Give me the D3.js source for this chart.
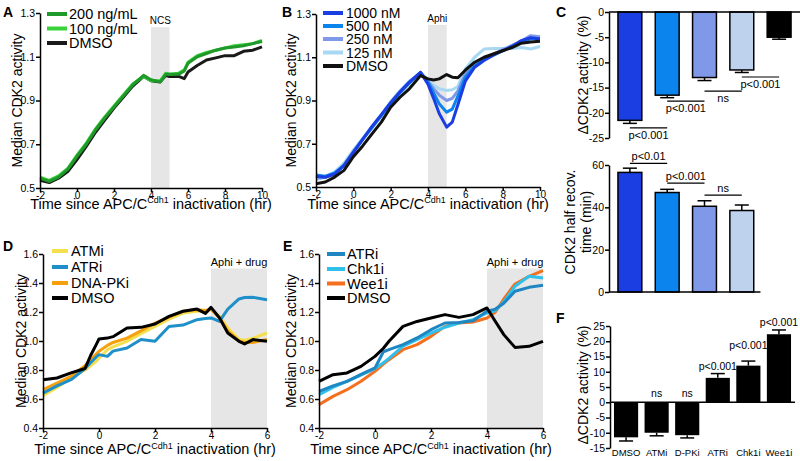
<!DOCTYPE html>
<html>
<head>
<meta charset="utf-8">
<script src="https://cdn.jsdelivr.net/npm/d3@7"></script>
<style>body{margin:0;background:#fff} svg{display:block}</style>
</head>
<body>
<script>
const FONT = "Arial, 'Liberation Sans', Helvetica, sans-serif"

// ---- panel A : NCS ----
const timeA = [-2,-1.5,-1,-0.5,0,0.5,1,1.5,2,2.5,3,3.6,4,4.5,4.8,5,5.5,5.8,6,6.5,7,7.5,8,8.5,9,9.5,10]
const a200 = [0.545,0.53,0.55,0.585,0.645,0.70,0.765,0.82,0.87,0.92,0.97,1.015,0.995,0.985,1.02,1.02,1.02,1.035,1.07,1.10,1.115,1.13,1.14,1.145,1.15,1.16,1.17]
const a100 = [0.55,0.535,0.555,0.59,0.65,0.705,0.77,0.825,0.875,0.925,0.975,1.01,0.99,0.99,1.025,1.02,1.025,1.04,1.075,1.105,1.12,1.13,1.14,1.15,1.155,1.16,1.175]
const aDMSO = [0.535,0.525,0.545,0.575,0.63,0.69,0.755,0.81,0.865,0.915,0.965,1.01,0.99,0.985,1.015,1.01,1.01,1.0,1.03,1.06,1.085,1.095,1.105,1.105,1.125,1.13,1.145]

// ---- panel B : aphidicolin doses ----
const timeB = [-2,-1.5,-1,-0.5,0,0.5,1,1.5,2,2.5,3,3.6,4,4.3,4.6,5,5.3,5.6,6,6.5,7,7.5,8,8.5,9,9.5,10]
const b1000 = [0.55,0.545,0.56,0.6,0.66,0.72,0.78,0.835,0.89,0.94,0.985,1.03,0.975,0.91,0.84,0.777,0.80,0.88,0.99,1.054,1.085,1.11,1.13,1.15,1.177,1.19,1.185]
const b500 = [0.555,0.55,0.565,0.6,0.66,0.72,0.775,0.83,0.885,0.935,0.98,1.03,0.985,0.935,0.885,0.846,0.86,0.92,1.008,1.06,1.09,1.11,1.13,1.15,1.17,1.185,1.185]
const b250 = [0.54,0.545,0.56,0.6,0.665,0.72,0.775,0.83,0.89,0.94,0.985,1.03,0.99,0.955,0.925,0.90,0.91,0.945,1.023,1.07,1.095,1.115,1.135,1.155,1.175,1.2,1.195]
const b125 = [0.535,0.545,0.57,0.61,0.67,0.725,0.78,0.835,0.895,0.945,0.99,1.025,0.995,0.97,0.955,0.946,0.95,0.965,1.046,1.10,1.138,1.14,1.14,1.14,1.145,1.138,1.15]
const bDMSO = [0.515,0.523,0.546,0.577,0.64,0.69,0.746,0.80,0.869,0.915,0.954,1.015,1.0,0.995,1.0,1.02,1.008,1.005,1.04,1.077,1.10,1.115,1.13,1.145,1.165,1.17,1.174]

// ---- panel C : bars ----
const cLabels = ["1000 nM","500 nM","250 nM","125 nM","DMSO"]
const cColors = ["#1a3ee2","#0c84ee","#7f99e8","#bed2ee","#000000"]
const cDelta = [-21.5,-16.5,-13,-11.5,-5]
const cDeltaErr = [0.6,0.5,0.6,0.5,0.4]
const cRecov = [56.5,47,40.5,38.5]
const cRecovErr = [2,1.5,2.6,2.6]
const cDeltaSig = [[0,1,-23,"p<0.001"],[1,2,-17.7,"p<0.001"],[2,3,-15.7,"ns"],[3,4,-12.9,"p<0.001"]]
const cRecovSig = [[0,1,60.8,"p<0.01"],[1,2,51.4,"p<0.001"],[2,3,45.8,"ns"]]

// ---- panel D ----
const timeD = [-2,-1.5,-1,-0.5,-0.3,-0.1,0,0.3,0.5,1,1.5,2,2.5,3,3.5,3.8,4,4.3,4.6,5,5.2,5.5,6]
const dATMi = [0.623,0.68,0.745,0.80,0.83,0.86,0.883,0.94,0.96,0.998,1.05,1.10,1.15,1.193,1.205,1.21,1.216,1.17,1.09,1.01,1.005,1.02,1.055]
const dATRi = [0.641,0.69,0.733,0.81,0.85,0.89,0.906,0.894,0.93,0.952,1.01,0.998,1.10,1.11,1.147,1.155,1.159,1.135,1.22,1.29,1.30,1.301,1.285]
const dDNAPKi = [0.664,0.71,0.756,0.83,0.87,0.91,0.929,0.97,0.99,1.02,1.07,1.124,1.165,1.205,1.215,1.21,1.22,1.16,1.07,1.0,0.99,0.99,1.01]
const dDMSO = [0.733,0.745,0.78,0.81,0.9,0.975,1.014,1.02,1.03,1.09,1.094,1.117,1.17,1.205,1.22,1.19,1.232,1.16,1.055,0.998,0.98,1.01,0.998]

// ---- panel E ----
const timeE = [-2,-1.5,-1,-0.5,0,0.3,0.5,1,1.5,2,2.5,3,3.5,4,4.3,4.6,5,5.5,6]
const eATRi = [0.653,0.69,0.722,0.77,0.814,0.926,0.94,0.975,1.021,1.078,1.124,1.128,1.14,1.205,1.22,1.26,1.343,1.37,1.384]
const eChk1i = [0.63,0.68,0.722,0.765,0.81,0.85,0.88,0.964,1.01,1.055,1.095,1.124,1.147,1.193,1.21,1.27,1.377,1.446,1.434]
const eWee1i = [0.561,0.618,0.664,0.722,0.791,0.84,0.871,0.94,0.975,1.032,1.101,1.124,1.131,1.159,1.2,1.29,1.393,1.446,1.485]
const eDMSO = [0.722,0.768,0.78,0.825,0.894,0.95,0.998,1.101,1.135,1.159,1.182,1.163,1.182,1.228,1.135,1.044,0.956,0.963,0.998]

// ---- panel F ----
const fLabels = ["DMSO","ATMi","D-PKi","ATRi","Chk1i","Wee1i"]
const fDelta = [-11.5,-10,-10.8,8,12,22.3]
const fErr = [1.2,1,0.9,1.4,1.5,1.4]
const fSig = ["","ns","ns","p<0.001","p<0.001","p<0.001"]

const svg = d3.select("body").append("svg")
  .attr("width", 800)
  .attr("height", 461)
  .attr("font-family", FONT)

const hyphen = f => d => f(d).replace("\u2212", "-")

function styleAxis(g, fs) {
  g.attr("font-family", FONT).attr("font-size", fs)
  g.select(".domain").attr("stroke", "#000").attr("stroke-width", 1.5)
  g.selectAll(".tick line").attr("stroke", "#000").attr("stroke-width", 1.5)
  g.selectAll(".tick text").attr("fill", "#000")
}

function letter(t, x, y) {
  svg.append("text").attr("x", x).attr("y", y)
    .attr("font-size", "14px").attr("font-weight", "bold").text(t)
}

function timeLabel(cx, y, fs) {
  const t = svg.append("text").attr("x", cx).attr("y", y)
    .attr("text-anchor", "middle").attr("font-size", fs + "px")
  t.append("tspan").text("Time since APC/C")
  t.append("tspan").attr("font-size", (fs * 0.62) + "px").attr("dy", -fs * 0.36).text("Cdh1")
  t.append("tspan").attr("dy", fs * 0.36).text(" inactivation (hr)")
}

function yLabel(lines, x, cy, fs, gap) {
  const t = svg.append("text")
    .attr("transform", `translate(${x},${cy}) rotate(-90)`)
    .attr("text-anchor", "middle").attr("font-size", fs + "px")
  lines.forEach((l, i) => t.append("tspan").attr("x", 0).attr("dy", i ? gap : 0).text(l))
}

function linePanel(c) {
  const x = d3.scaleLinear().domain(c.xDomain).range([c.left, c.right])
  const y = d3.scaleLinear().domain(c.yDomain).range([c.bottom, c.top])
  const g = svg.append("g")

  // drug window
  g.append("rect")
    .attr("x", x(c.shade[0])).attr("width", x(c.shade[1]) - x(c.shade[0]))
    .attr("y", y(c.shadeTop)).attr("height", y(c.yDomain[0]) - y(c.shadeTop))
    .attr("fill", "#e6e6e6")
  g.append("text")
    .attr("x", (x(c.shade[0]) + x(c.shade[1])) / 2).attr("y", y(c.shadeTop) - 3)
    .attr("text-anchor", "middle").attr("font-size", c.shadeFs + "px")
    .text(c.shadeLabel)

  const line = d3.line().x((d, i) => x(c.time[i])).y(d => y(d))
  c.draw.forEach(i => {
    const s = c.series[i]
    g.append("path").datum(s.values)
      .attr("d", line)
      .attr("fill", "none").attr("stroke", s.color)
      .attr("stroke-width", 3).attr("stroke-linejoin", "round")
  })

  g.append("g").attr("transform", `translate(0,${c.bottom})`)
    .call(d3.axisBottom(x).tickValues(c.xTicks).tickFormat(hyphen(d3.format("d")))
      .tickSize(4).tickSizeOuter(0).tickPadding(0))
    .call(a => styleAxis(a, "10px"))
  g.append("g").attr("transform", `translate(${c.left},0)`)
    .call(d3.axisLeft(y).tickValues(c.yTicks).tickFormat(d3.format(".1f"))
      .tickSize(4).tickSizeOuter(0).tickPadding(1))
    .call(a => styleAxis(a, "10.5px"))

  // legend
  c.series.forEach((s, i) => {
    const ry = c.legend.rows[i]
    g.append("line").attr("x1", c.legend.x0).attr("x2", c.legend.x1)
      .attr("y1", ry).attr("y2", ry).attr("stroke", s.color).attr("stroke-width", 4)
    g.append("text").attr("x", c.legend.tx).attr("y", ry + c.legend.fs * 0.36)
      .attr("font-size", c.legend.fs + "px").text(s.name)
  })

  yLabel(["Median CDK2 activity"], c.yLabelX, (c.top + c.bottom) / 2, 14)
  timeLabel((c.left + c.right) / 2, c.xLabelY, 14.5)
}

// A
linePanel({
  left: 40, right: 262, top: 13, bottom: 188,
  xDomain: [-2, 10], xTicks: [-2, 0, 2, 4, 6, 8, 10],
  yDomain: [0.5, 1.3], yTicks: [0.5, 0.7, 0.9, 1.1, 1.3],
  shade: [4, 5], shadeTop: 1.235, shadeLabel: "NCS", shadeFs: 10,
  time: timeA,
  series: [
    {name: "200 ng/mL", color: "#1f9a2a", values: a200},
    {name: "100 ng/mL", color: "#3ad23a", values: a100},
    {name: "DMSO", color: "#1a1a1a", values: aDMSO}
  ],
  draw: [2, 1, 0],
  legend: {x0: 47, x1: 67, tx: 69, rows: [14, 28.5, 43], fs: 14.5},
  yLabelX: 22, xLabelY: 208.5
})
letter("A", 3, 17)

// B
linePanel({
  left: 316, right: 540, top: 14, bottom: 187,
  xDomain: [-2, 10], xTicks: [-2, 0, 2, 4, 6, 8, 10],
  yDomain: [0.5, 1.3], yTicks: [0.5, 0.7, 0.9, 1.1, 1.3],
  shade: [4, 5], shadeTop: 1.25, shadeLabel: "Aphi", shadeFs: 10,
  time: timeB,
  series: [
    {name: "1000 nM", color: "#1a3ee2", values: b1000},
    {name: "500 nM", color: "#0c84ee", values: b500},
    {name: "250 nM", color: "#7f99e8", values: b250},
    {name: "125 nM", color: "#a9d8f2", values: b125},
    {name: "DMSO", color: "#111", values: bDMSO}
  ],
  draw: [3, 2, 1, 0, 4],
  legend: {x0: 323, x1: 343, tx: 346, rows: [13, 26, 39, 52.5, 66], fs: 14},
  yLabelX: 296, xLabelY: 208.5
})
letter("B", 282, 17)

// D
linePanel({
  left: 43, right: 267, top: 254, bottom: 428,
  xDomain: [-2, 6], xTicks: [-2, 0, 2, 4, 6],
  yDomain: [0.4, 1.6], yTicks: [0.4, 0.6, 0.8, 1.0, 1.2, 1.4, 1.6],
  shade: [4, 6], shadeTop: 1.5, shadeLabel: "Aphi + drug", shadeFs: 11,
  time: timeD,
  series: [
    {name: "ATMi", color: "#f4df4e", values: dATMi},
    {name: "ATRi", color: "#1f8fca", values: dATRi},
    {name: "DNA-PKi", color: "#f5a00c", values: dDNAPKi},
    {name: "DMSO", color: "#000", values: dDMSO}
  ],
  draw: [0, 2, 1, 3],
  legend: {x0: 52, x1: 68, tx: 71, rows: [251, 267, 283, 298], fs: 14.5},
  yLabelX: 26, xLabelY: 454
})
letter("D", 3, 251)

// E
linePanel({
  left: 319, right: 543, top: 254, bottom: 428,
  xDomain: [-2, 6], xTicks: [-2, 0, 2, 4, 6],
  yDomain: [0.4, 1.6], yTicks: [0.4, 0.6, 0.8, 1.0, 1.2, 1.4, 1.6],
  shade: [4, 6], shadeTop: 1.5, shadeLabel: "Aphi + drug", shadeFs: 11,
  time: timeE,
  series: [
    {name: "ATRi", color: "#1f86c2", values: eATRi},
    {name: "Chk1i", color: "#2fc0ec", values: eChk1i},
    {name: "Wee1i", color: "#f5701e", values: eWee1i},
    {name: "DMSO", color: "#000", values: eDMSO}
  ],
  draw: [2, 1, 0, 3],
  legend: {x0: 327, x1: 345, tx: 347, rows: [254, 269, 283.5, 298], fs: 14.5},
  yLabelX: 296, xLabelY: 454
})
letter("E", 283, 251)

function errBar(g, cx, y1, y2, w) {
  g.append("line").attr("x1", cx).attr("x2", cx).attr("y1", y1).attr("y2", y2).attr("stroke", "#000").attr("stroke-width", 1.5)
  g.append("line").attr("x1", cx - w / 2).attr("x2", cx + w / 2).attr("y1", y2).attr("y2", y2).attr("stroke", "#000").attr("stroke-width", 1.5)
}

// ---- C top: delta CDK2 ----
const xc = d3.scaleBand().domain(cLabels).range([609, 800]).paddingInner(0.36).paddingOuter(0.24)
const ycd = d3.scaleLinear().domain([-25, 0]).range([138, 12])
const gC = svg.append("g")

cDelta.forEach((v, i) => {
  const k = cLabels[i]
  errBar(gC, xc(k) + xc.bandwidth() / 2, ycd(v), ycd(v - cDeltaErr[i]), 14)
  gC.append("rect").attr("x", xc(k)).attr("width", xc.bandwidth())
    .attr("y", ycd(0)).attr("height", ycd(v) - ycd(0))
    .attr("fill", cColors[i]).attr("stroke", "#000").attr("stroke-width", 1.5)
})
gC.append("line").attr("x1", xc.range()[0]).attr("x2", xc.range()[1])
  .attr("y1", ycd(0)).attr("y2", ycd(0)).attr("stroke", "#000").attr("stroke-width", 1.5)
gC.append("g").attr("transform", "translate(609,0)")
  .call(d3.axisLeft(ycd).tickValues([0, -5, -10, -15, -20, -25]).tickFormat(hyphen(d3.format("d")))
    .tickSize(4).tickSizeOuter(0).tickPadding(1))
  .call(a => styleAxis(a, "10.5px"))
cDeltaSig.forEach(([a, b, v, t]) => {
  const xa = xc(cLabels[a]) + xc.bandwidth() / 2, xb = xc(cLabels[b]) + xc.bandwidth() / 2
  gC.append("line").attr("x1", xa).attr("x2", xb).attr("y1", ycd(v)).attr("y2", ycd(v))
    .attr("stroke", "#000").attr("stroke-width", 1.2)
  gC.append("text").attr("x", (xa + xb) / 2).attr("y", ycd(v) + 11)
    .attr("text-anchor", "middle").attr("font-size", "11px").text(t)
})
yLabel(["\u0394CDK2 activity (%)"], 588, 75, 14, 0)
letter("C", 556, 17)

// ---- C bottom: half recovery time ----
const ycr = d3.scaleLinear().domain([0, 60]).range([292, 165])
const gR = svg.append("g")
cRecov.forEach((v, i) => {
  const k = cLabels[i]
  errBar(gR, xc(k) + xc.bandwidth() / 2, ycr(v), ycr(v + cRecovErr[i]), 14)
  gR.append("rect").attr("x", xc(k)).attr("width", xc.bandwidth())
    .attr("y", ycr(v)).attr("height", ycr(0) - ycr(v))
    .attr("fill", cColors[i]).attr("stroke", "#000").attr("stroke-width", 1.5)
})
gR.append("line").attr("x1", xc.range()[0])
  .attr("x2", xc(cLabels[3]) + xc.bandwidth() + xc.step() * xc.paddingInner() / 2)
  .attr("y1", ycr(0)).attr("y2", ycr(0)).attr("stroke", "#000").attr("stroke-width", 1.5)
gR.append("g").attr("transform", "translate(609,0)")
  .call(d3.axisLeft(ycr).tickValues([0, 20, 40, 60]).tickSize(4).tickSizeOuter(0).tickPadding(1))
  .call(a => styleAxis(a, "10.5px"))
cRecovSig.forEach(([a, b, v, t]) => {
  const xa = xc(cLabels[a]) + xc.bandwidth() / 2, xb = xc(cLabels[b]) + xc.bandwidth() / 2
  gR.append("line").attr("x1", xa).attr("x2", xb).attr("y1", ycr(v)).attr("y2", ycr(v))
    .attr("stroke", "#000").attr("stroke-width", 1.2)
  gR.append("text").attr("x", (xa + xb) / 2).attr("y", ycr(v) - 3)
    .attr("text-anchor", "middle").attr("font-size", "11px").text(t)
})
yLabel(["CDK2 half recov.", "time (min)"], 575, 222, 14, 16)

// ---- F ----
const xf = d3.scaleBand().domain(fLabels).range([610, 795]).paddingInner(0.21).paddingOuter(0.13)
const yf = d3.scaleLinear().domain([-15, 25]).range([448, 326])
const sigGap = [5, 5, 5, 4, 12, 4]
const gF = svg.append("g")
fDelta.forEach((v, i) => {
  const k = fLabels[i]
  const cx = xf(k) + xf.bandwidth() / 2
  const ve = v < 0 ? v - fErr[i] : v + fErr[i]
  errBar(gF, cx, yf(v), yf(ve), 14)
  gF.append("rect").attr("x", xf(k)).attr("width", xf.bandwidth())
    .attr("y", yf(Math.max(v, 0))).attr("height", Math.abs(yf(v) - yf(0)))
    .attr("fill", "#000")
  gF.append("text").attr("x", cx).attr("y", (v < 0 ? yf(0) : yf(ve)) - sigGap[i])
    .attr("text-anchor", "middle").attr("font-size", "10.5px").text(fSig[i])
  gF.append("text").attr("x", cx).attr("y", 456)
    .attr("text-anchor", "middle").attr("font-size", "9.5px").text(k)
})
gF.append("line").attr("x1", xf.range()[0]).attr("x2", xf.range()[1])
  .attr("y1", yf(0)).attr("y2", yf(0)).attr("stroke", "#000").attr("stroke-width", 1.5)
gF.append("g").attr("transform", "translate(610,0)")
  .call(d3.axisLeft(yf).tickValues([25, 20, 15, 10, 5, 0, -5, -10, -15]).tickFormat(hyphen(d3.format("d")))
    .tickSize(4).tickSizeOuter(0).tickPadding(1))
  .call(a => styleAxis(a, "10.5px"))
yLabel(["\u0394CDK2 activity (%)"], 588, 385, 14, 0)
letter("F", 556, 323)
</script>
</body>
</html>
